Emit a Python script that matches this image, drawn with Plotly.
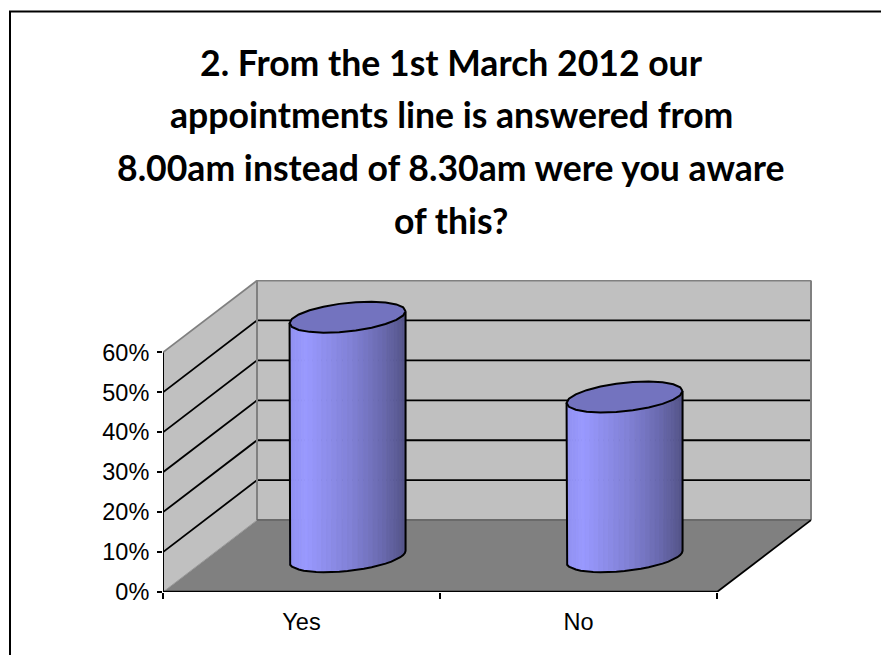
import plotly.graph_objects as go
import math

categories = ["Yes", "No"]
values = [60, 40]
y_ticks = [0, 10, 20, 30, 40, 50, 60]
y_tick_labels = ["0%", "10%", "20%", "30%", "40%", "50%", "60%"]
title_lines = [
    "2. From the 1st March 2012 our",
    "appointments line is answered from",
    "8.00am instead of 8.30am were you aware",
    "of this?",
]

W, H = 881, 655
L, R, T, B = 163, 812, 280, 592.5
PX_X = 277.0   # px per category
PX_Y = 4.0     # px per percent
DX = 94 / PX_X  # depth shift
DY = 72 / PX_Y
N = len(categories)
YMAX_AXIS = max(y_ticks)

WALL = "#C0C0C0"
FLOOR = "#808080"
EDGE = "#808080"


def proj(x, d, y):
    return x + DX * d, y + DY * d


fig = go.Figure()


def poly(pts, fill, line=None, lw=0, closed=True, hover=False):
    xs = [p[0] for p in pts]
    ys = [p[1] for p in pts]
    if closed:
        xs.append(xs[0])
        ys.append(ys[0])
    fig.add_trace(go.Scatter(
        x=xs, y=ys, mode="lines", fill="toself" if fill else "none", fillcolor=fill,
        line=dict(color=line or fill or "rgba(0,0,0,0)", width=lw), hoverinfo="skip",
        showlegend=False, cliponaxis=False))


def seg(a, b, color, lw):
    poly([a, b], None, color, lw, closed=False)


# walls and floor
poly([proj(0, 0, 0), proj(0, 1, 0), proj(0, 1, YMAX_AXIS), proj(0, 0, YMAX_AXIS)], WALL)
poly([proj(0, 1, 0), proj(N, 1, 0), proj(N, 1, YMAX_AXIS), proj(0, 1, YMAX_AXIS)], WALL)
poly([proj(0, 0, 0), proj(N, 0, 0), proj(N, 1, 0), proj(0, 1, 0)], FLOOR)

# gridlines
for v in y_ticks[1:-1]:
    seg(proj(0, 0, v), proj(0, 1, v), "#000000", 1.8)
    seg(proj(0, 1, v), proj(N, 1, v), "#000000", 1.8)

# frame edges
seg(proj(0, 0, YMAX_AXIS), proj(0, 1, YMAX_AXIS), EDGE, 1.8)
seg(proj(0, 1, YMAX_AXIS), proj(N, 1, YMAX_AXIS), EDGE, 2)
seg(proj(0, 1, 0), proj(0, 1, YMAX_AXIS), EDGE, 2)
seg(proj(N, 1, 0), proj(N, 1, YMAX_AXIS), EDGE, 2)
seg(proj(0, 1, 0), proj(N, 1, 0), "#6a6a6a", 2)
seg(proj(0, 0, 0), proj(0, 1, 0), "#9a9a9a", 1)
seg(proj(N, 0, 0), proj(N, 1, 0), "#000000", 1.8)

# axes
seg(proj(0, 0, 0), proj(0, 0, YMAX_AXIS), "#000000", 2)
seg(proj(0, 0, 0), proj(N, 0, 0), "#000000", 2.4)

# cylinders
RX = 58 / PX_X
TILT = 6 / PX_Y
RY = 14.3 / PX_Y
DEPTH = 0.49
STRIPS = 34
SEGS = 22
stops = [(0.0, (145, 145, 240)), (0.14, (153, 153, 255)), (0.55, (128, 128, 212)),
         (0.82, (104, 104, 172)), (1.0, (84, 84, 136))]


def shade(f):
    for (a, ca), (b, cb) in zip(stops, stops[1:]):
        if f <= b:
            t = (f - a) / (b - a)
            return "rgb(%d,%d,%d)" % tuple(round(p + (q - p) * t) for p, q in zip(ca, cb))
    return "rgb(84,84,136)"


def rim(cx, cy, t):
    return cx + RX * math.cos(t), cy + TILT * math.cos(t) + RY * math.sin(t)


for i, v in enumerate(values):
    cx, y0 = proj(i + 0.5, DEPTH, 0)
    _, y1 = proj(i + 0.5, DEPTH, v)
    # side strips, left to right along the front half of the rim
    for s in range(STRIPS):
        t0 = math.pi + math.pi * s / STRIPS
        t1 = math.pi + math.pi * (s + 1) / STRIPS
        pts = [rim(cx, y0, t0), rim(cx, y0, t1), rim(cx, y1, t1), rim(cx, y1, t0)]
        f = (-math.cos(t0) - math.cos(t1)) / -4 + 0.5
        poly(pts, shade(f), shade(f), 0.8)
    # outline of the side
    low = [rim(cx, y0, math.pi + math.pi * s / SEGS) for s in range(SEGS + 1)]
    poly([rim(cx, y1, math.pi)] + low + [rim(cx, y1, 0)], None, "#000000", 2, closed=False)
    # top disc
    disc = [rim(cx, y1, 2 * math.pi * s / SEGS) for s in range(SEGS)]
    poly(disc, "#7373BF", "#000000", 2)


# outer border and title as page-level items
def px(xp):
    return (xp - L) / (R - L)


def py(yp):
    return (B - yp) / (B - T)


shapes = [dict(type="rect", xref="paper", yref="paper", x0=px(10), x1=px(900), y0=py(11), y1=py(680),
               line=dict(color="#000000", width=2), layer="below")]
title_y = [62, 114, 167, 220]
annotations = [dict(text=t, xref="paper", yref="paper", x=px(451), y=py(y), showarrow=False,
                    xanchor="center", yanchor="middle",
                    font=dict(family="Lato", size=35.6, color="#000000", weight="bold"))
               for t, y in zip(title_lines, title_y)]

fig.update_layout(
    width=W, height=H, autosize=False, showlegend=False,
    margin=dict(l=L, r=W - R, t=T, b=H - B, pad=0),
    paper_bgcolor="#FFFFFF", plot_bgcolor="rgba(0,0,0,0)",
    font=dict(family="Liberation Sans", size=23.5, color="#000000"),
    shapes=shapes, annotations=annotations,
    xaxis=dict(range=[0, (R - L) / PX_X], showgrid=False, zeroline=False, showline=False,
               tickvals=[i + 0.5 for i in range(N)], ticktext=categories, ticks="", ticklen=0,
               tickfont=dict(size=23.5), fixedrange=True, ticklabelstandoff=13,
               minor=dict(tickvals=list(range(N + 1)), ticks="outside", ticklen=6,
                          tickcolor="#000000", tickwidth=1.5, showgrid=False)),
    yaxis=dict(range=[0, (B - T) / PX_Y], showgrid=False, zeroline=False, showline=False,
               tickvals=y_ticks, ticktext=y_tick_labels, ticks="outside", ticklen=5,
               tickcolor="#000000", tickwidth=1.5, tickfont=dict(size=23.5), fixedrange=True,
               ticklabelstandoff=3),
)

fig.write_html("out.html", config={"displayModeBar": False},
               post_script="document.body.style.margin='0';document.body.style.overflow='hidden';")
